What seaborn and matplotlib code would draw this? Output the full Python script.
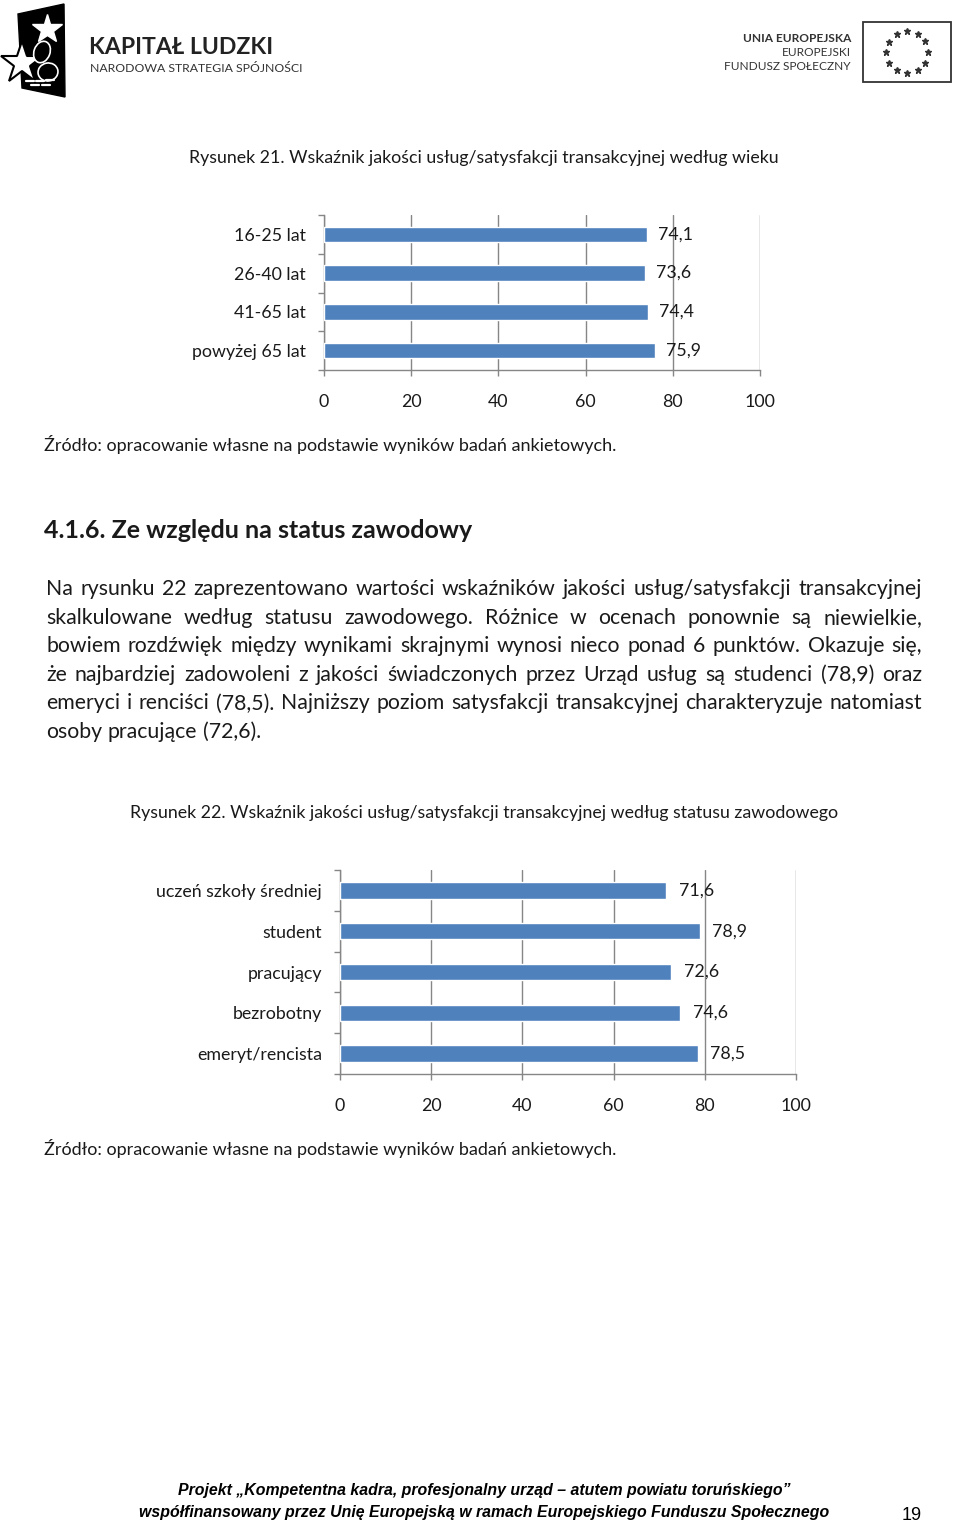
import matplotlib
matplotlib.use('Agg')
import matplotlib.pyplot as plt
import seaborn as sns
import pandas as pd
import numpy as np
from matplotlib.patches import Polygon, Rectangle, Ellipse

sns.set_theme(style='white')
plt.rcParams['font.family'] = ['Lato', 'DejaVu Sans']

W, H = 960, 1526

# ---------------- data ----------------
age_groups = ["16-25 lat", "26-40 lat", "41-65 lat", "powyżej 65 lat"]
age_values = [74.1, 73.6, 74.4, 75.9]

status_groups = ["uczeń szkoły średniej", "student", "pracujący", "bezrobotny", "emeryt/rencista"]
status_values = [71.6, 78.9, 72.6, 74.6, 78.5]

x_ticks = [0, 20, 40, 60, 80, 100]

title1 = "Rysunek 21. Wskaźnik jakości usług/satysfakcji transakcyjnej według wieku"
title2 = "Rysunek 22. Wskaźnik jakości usług/satysfakcji transakcyjnej według statusu zawodowego"
source = "Źródło: opracowanie własne na podstawie wyników badań ankietowych."
heading = "4.1.6. Ze względu na status zawodowy"
paragraph_lines = [
    "Na rysunku 22 zaprezentowano wartości wskaźników jakości usług/satysfakcji transakcyjnej",
    "skalkulowane według statusu zawodowego. Różnice w ocenach ponownie są niewielkie,",
    "bowiem rozdźwięk między wynikami skrajnymi wynosi nieco ponad 6 punktów. Okazuje się,",
    "że najbardziej zadowoleni z jakości świadczonych przez Urząd usług są studenci (78,9) oraz",
    "emeryci i renciści (78,5). Najniższy poziom satysfakcji transakcyjnej charakteryzuje natomiast",
    "osoby pracujące (72,6).",
]
footer1 = "Projekt „Kompetentna kadra, profesjonalny urząd – atutem powiatu toruńskiego”"
footer2 = "współfinansowany przez Unię Europejską w ramach Europejskiego Funduszu Społecznego"
page_no = "19"

BAR = '#4F81BD'
GRID = '#868686'
TXT = '#1a1a1a'
CH_FS = 12.8

fig = plt.figure(figsize=(W / 100, H / 100), dpi=100)
fig.patch.set_facecolor('white')

bg = fig.add_axes([0, 0, 1, 1], zorder=0)
bg.set_xlim(0, W)
bg.set_ylim(H, 0)
bg.axis('off')

renderer = fig.canvas.get_renderer()


def T(x, y, s, **kw):
    kw.setdefault('color', TXT)
    return bg.text(x, y, s, **kw)


# ---------------- logos ----------------
bg.add_patch(Polygon([(18, 14), (64, 4), (65, 97), (22, 88)], closed=True, color='black', zorder=1))
bg.plot([47], [29], marker='*', ms=22, color='white', mec='white', zorder=2)
bg.plot([22], [63], marker='*', ms=32, color='white', mec='black', mew=1.5, zorder=3)
bg.add_patch(Ellipse((42, 52), 16, 22, angle=20, fc='black', ec='white', lw=1.2, zorder=4))
bg.add_patch(Ellipse((48, 72), 20, 18, angle=-10, fc='black', ec='white', lw=1.2, zorder=4))
for xx, yy in [(30, 81), (40, 81), (50, 80), (35, 85), (46, 85)]:
    bg.plot([xx - 4, xx + 4], [yy, yy], color='white', lw=1.6, zorder=5)
T(89, 48, "KAPITAŁ LUDZKI", fontsize=16.6, fontweight='bold', ha='left', va='center', color='#222222')
T(90, 69, "NARODOWA STRATEGIA SPÓJNOŚCI", fontsize=8.8, ha='left', va='center', color='#333333')

T(851, 38, "UNIA EUROPEJSKA", fontsize=8.6, fontweight='bold', ha='right', va='center', color='#333333')
T(851, 53, "EUROPEJSKI", fontsize=8.6, ha='right', va='center', color='#333333')
T(851, 67, "FUNDUSZ SPOŁECZNY", fontsize=8.6, ha='right', va='center', color='#333333')
bg.add_patch(Rectangle((863, 22), 88, 60, fill=False, ec='#333333', lw=1.3))
ang = np.linspace(0, 2 * np.pi, 13)[:-1]
bg.plot(907 + 21 * np.cos(ang), 52 + 21 * np.sin(ang), ls='none', marker='*', ms=4.5, color='#333333')


# ---------------- charts ----------------
def fmt(v):
    return f"{v:.1f}".replace('.', ',')


def bar_chart(left, top, right, bottom, cats, vals, lab_pad):
    ax = fig.add_axes([left / W, 1 - bottom / H, (right - left) / W, (bottom - top) / H], zorder=2)
    df = pd.DataFrame({'cat': cats, 'val': vals})
    sns.barplot(data=df, x='val', y='cat', orient='h', color=BAR, width=0.4,
                saturation=1, ax=ax, zorder=3)
    n = len(cats)
    ax.set_xlim(0, 100)
    ax.set_ylim(n - 0.5, -0.5)
    ax.set_xlabel('')
    ax.set_ylabel('')
    ax.set_xticks(x_ticks)
    ax.set_xticklabels([str(t) for t in x_ticks], fontsize=CH_FS, color=TXT)
    ax.set_yticks(np.arange(-0.5, n, 1.0))
    ax.set_yticklabels([])
    ax.set_yticks(range(n), minor=True)
    ax.set_yticklabels(cats, minor=True, fontsize=CH_FS, color=TXT)
    ax.tick_params(axis='y', which='minor', length=0, pad=13)
    ax.tick_params(axis='y', which='major', length=4, width=1, color=GRID, direction='out', left=True)
    ax.tick_params(axis='x', length=4, width=1, color=GRID, direction='out', pad=13, bottom=True)
    for s in ['top', 'right']:
        ax.spines[s].set_visible(False)
    for s in ['left', 'bottom']:
        ax.spines[s].set_color(GRID)
        ax.spines[s].set_linewidth(1)
    ax.grid(axis='x', color=GRID, lw=1)
    ax.grid(axis='y', visible=False)
    ax.set_axisbelow(True)
    ax.bar_label(ax.containers[0], labels=[fmt(v) for v in vals], padding=lab_pad,
                 fontsize=CH_FS, color=TXT)
    ax.patch.set_alpha(0)
    return ax


T(484, 158, title1, fontsize=12.8, ha='center', va='center')
bar_chart(324, 215, 760, 370, age_groups, age_values, 8)
T(44, 444, source, fontsize=13, ha='left', va='center')

T(44, 530, heading, fontsize=18, fontweight='bold', ha='left', va='center')


def justify(line, x0, x1, y, fs, last=False):
    words = line.split(' ')
    objs = [T(0, y, w, fontsize=fs, ha='left', va='baseline') for w in words]
    widths = [o.get_window_extent(renderer).width for o in objs]
    t1 = T(0, 0, 'a a', fontsize=fs)
    t2 = T(0, 0, 'aa', fontsize=fs)
    nat = t1.get_window_extent(renderer).width - t2.get_window_extent(renderer).width
    t1.remove()
    t2.remove()
    if last or len(words) == 1:
        sp = nat
    else:
        sp = (x1 - x0 - sum(widths)) / (len(words) - 1)
        sp = max(sp, nat * 0.6)
    x = x0
    for o, w in zip(objs, widths):
        o.set_x(x)
        x += w + sp


base0 = 595
for i, line in enumerate(paragraph_lines):
    justify(line, 46, 922, base0 + i * 28.6, 15.3, last=(i == len(paragraph_lines) - 1))

T(484, 813, title2, fontsize=12.8, ha='center', va='center')
bar_chart(340, 870, 796, 1074, status_groups, status_values, 9)
T(44, 1148, source, fontsize=13, ha='left', va='center')

foot_font = ['Liberation Sans Narrow', 'Liberation Sans', 'DejaVu Sans']
T(484, 1491, footer1, fontsize=11.45, fontweight='bold', fontstyle='italic', family=foot_font,
  ha='center', va='center', color='black')
T(484, 1513, footer2, fontsize=11.45, fontweight='bold', fontstyle='italic', family=foot_font,
  ha='center', va='center', color='black')
T(912, 1515, page_no, fontsize=13, family=foot_font, ha='center', va='center', color='black')

fig.savefig('out.png', dpi=100, facecolor='white')
